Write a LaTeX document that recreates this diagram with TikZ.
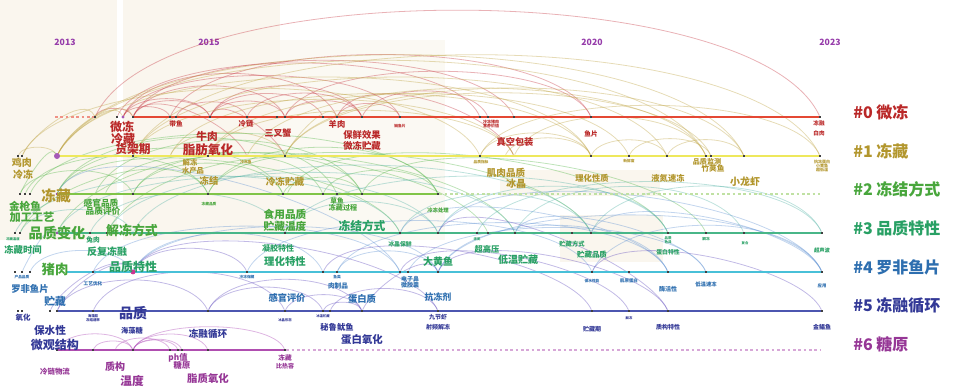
\documentclass[tikz,border=0pt]{standalone}
\usepackage{fontspec}
\setmainfont{Noto Sans CJK SC}
\usepackage{tikz}
\usetikzlibrary{positioning}
\definecolor{c0}{RGB}{228,72,52}
\definecolor{c1}{RGB}{238,232,92}
\definecolor{c2}{RGB}{128,196,72}
\definecolor{c3}{RGB}{72,182,136}
\definecolor{c4}{RGB}{72,192,216}
\definecolor{c5}{RGB}{76,86,176}
\definecolor{c6}{RGB}{176,78,176}
\definecolor{t0}{RGB}{186,40,40}
\definecolor{t1}{RGB}{178,150,45}
\definecolor{t2}{RGB}{72,166,60}
\definecolor{t3}{RGB}{40,160,100}
\definecolor{t4}{RGB}{45,110,175}
\definecolor{t5}{RGB}{50,56,150}
\definecolor{t6}{RGB}{150,55,150}
\definecolor{a0}{RGB}{200,62,72}
\definecolor{a1}{RGB}{192,166,72}
\definecolor{a2}{RGB}{92,186,80}
\definecolor{a3}{RGB}{92,182,170}
\definecolor{a4}{RGB}{102,150,212}
\definecolor{a5}{RGB}{102,82,192}
\definecolor{a6}{RGB}{172,72,182}
\definecolor{yr}{RGB}{150,60,170}
\definecolor{slice}{RGB}{250,246,238}
\tikzstyle{tline} = [line width=2.2pt]
\tikzstyle{dline} = [line width=0.9pt, dash pattern=on 2pt off 2pt]
\tikzstyle{dot} = [rectangle, fill=black!75, inner sep=0pt, minimum size=1.6pt]
\tikzstyle{year} = [font=\fontsize{6.5pt}{7pt}\selectfont\bfseries, text=yr]
\tikzstyle{legend} = [anchor=west, inner sep=0pt, font=\fontsize{12pt}{12pt}\selectfont\bfseries]
\tikzstyle{arcc} = [out=65, in=115, looseness=0.75, line width=0.6pt, opacity=0.4]
\tikzstyle{arcl} = [out=65, in=115, looseness=0.55, line width=0.6pt, opacity=0.4]
\tikzset{
  lk/.style={font=\fontsize{#1pt}{#1pt}\selectfont\bfseries, inner sep=0pt, align=center},
  hub/.style={circle, fill=yr!85, inner sep=0pt, minimum size=#1}
}

\begin{document}
\begin{tikzpicture}[x=0.75pt, y=-0.75pt]
\useasboundingbox (0,0) rectangle (953,390);

% time slices
\fill[slice] (0,0) rectangle (117,240);
\fill[slice] (123,0) rectangle (280,240);
\fill[slice!70] (280,40) rectangle (445,240);
\fill[slice] (500,170) rectangle (660,196);
\fill[slice] (560,215) rectangle (663,262);

% years
\node[year] (y13) at (65,42) {2013};
\node[year] (y15) at (209,42) {2015};
\node[year] (y20) at (592,42) {2020};
\node[year] (y23) at (830,42) {2023};

% timeline dots
\foreach \x in {95,117,123,133,170,176,210,247,277,285,323,337,362,400,480,488,514,591,820}
  \node[dot] (n0-\x) at (\x,117) {};
\foreach \x in {18,22,57,133,170,208,247,285,480,505,514,591,629,667,706,711,744,820}
  \node[dot] (n1-\x) at (\x,156) {};
\foreach \x in {20,25,30,57,95,100,105,133,208,283,287,323,337,362,438}
  \node[dot] (n2-\x) at (\x,194) {};
\foreach \x in {15,20,57,90,100,107,133,285,323,400,438,477,488,515,572,591,668,706,744,822}
  \node[dot] (n3-\x) at (\x,233) {};
\foreach \x in {15,22,30,93,133,247,323,337,400,408,438,592,629,668,706,822}
  \node[dot] (n4-\x) at (\x,272) {};
\foreach \x in {18,22,50,57,93,208,285,323,330,362,438,592,629,668,822}
  \node[dot] (n5-\x) at (\x,311) {};
\foreach \x in {57,93,115,133,170,178,182,208,285}
  \node[dot] (n6-\x) at (\x,350) {};

% citation arcs
\foreach \a/\b in {n0-95/n0-133,n0-123/n0-170,n0-123/n0-210,n0-133/n0-210,n0-133/n0-285,n0-176/n0-247,n0-210/n0-285,n0-210/n0-323,n0-247/n0-362,n0-285/n0-362,n0-337/n0-400,n0-362/n0-488,n0-123/n0-337,n0-210/n0-362,n0-210/n1-285,n0-337/n1-514,n0-133/n1-247}
  \draw[arcc, a0] (\a) to (\b);
\foreach \a/\b in {n0-95/n0-820,n0-117/n0-480,n0-133/n0-514,n0-123/n0-400,n0-170/n0-591,n0-285/n0-591}
  \draw[arcl, a0] (\a) to (\b);
\foreach \a/\b in {n1-18/n1-57,n1-57/n0-123,n1-22/n0-95,n1-57/n0-133,n1-170/n1-285,n1-480/n1-591,n1-505/n1-591,n1-591/n1-667,n1-629/n1-711,n1-667/n1-744,n1-514/n1-706,n1-285/n0-337}
  \draw[arcc, a1] (\a) to (\b);
\foreach \a/\b in {n1-57/n1-706,n1-57/n1-591,n1-57/n1-744,n1-133/n1-820,n1-133/n1-667,n1-170/n1-591,n1-208/n1-629,n1-247/n1-706,n1-285/n1-711,n1-285/n1-744,n1-480/n1-820,n1-208/n1-514,n1-133/n1-514,n1-22/n1-480}
  \draw[arcl, a1] (\a) to (\b);
\foreach \a/\b in {n2-20/n1-57,n2-20/n2-133,n2-25/n2-208,n2-57/n2-283,n2-133/n2-283,n2-283/n2-362,n2-323/n2-438,n2-208/n2-438,n3-20/n2-208,n3-57/n2-323,n3-107/n2-362,n2-57/n2-337,n2-95/n2-362}
  \draw[arcc, a2] (\a) to (\b);
\foreach \a/\b in {n2-30/n2-438,n2-57/n3-400,n2-133/n3-515,n2-208/n3-591,n2-287/n3-668,n2-362/n3-706,n2-105/n3-488}
  \draw[arcl, a2] (\a) to (\b);
\foreach \a/\b in {n3-20/n3-133,n3-90/n3-285,n3-400/n3-591,n3-438/n3-668,n3-591/n3-822,n3-515/n3-744,n3-285/n3-438}
  \draw[arcc, a3] (\a) to (\b);
\foreach \a/\b in {n3-57/n3-438,n3-107/n3-515,n3-133/n3-591,n3-285/n3-668,n3-477/n3-822,n3-15/n3-400}
  \draw[arcl, a3] (\a) to (\b);
\foreach \a/\b in {n4-30/n4-133,n4-22/n3-57,n4-133/n4-323,n4-337/n4-438,n4-438/n4-668,n4-592/n4-822}
  \draw[arcc, a4] (\a) to (\b);
\foreach \a/\b in {n4-93/n4-400,n4-133/n4-438,n4-247/n4-592,n4-337/n4-668,n4-408/n4-706,n4-438/n4-822,n3-438/n4-822,n3-515/n4-706,n3-400/n4-668,n2-57/n4-400,n3-591/n4-822}
  \draw[arcl, a4] (\a) to (\b);
\foreach \a/\b in {n5-57/n5-208,n5-208/n5-362,n5-285/n5-362,n5-323/n5-362,n5-330/n5-438,n5-57/n4-133,n5-50/n4-133,n5-208/n5-323,n5-93/n5-285,n5-362/n4-438,n4-133/n4-247}
  \draw[arcc, a5] (\a) to (\b);
\foreach \a/\b in {n4-323/n5-592,n4-400/n5-629,n4-438/n5-668,n4-592/n5-822,n4-133/n5-438,n3-438/n5-668}
  \draw[arcl, a5] (\a) to (\b);
\foreach \a/\b in {n6-133/n6-178,n6-133/n6-182,n6-133/n6-208,n6-93/n6-133,n6-115/n6-170,n6-57/n6-133}
  \draw[arcc, a6] (\a) to (\b);
\draw[arcl, a6] (n6-133) to (n6-285);

% timelines
\draw[dline, c0!60] (55,117) -- (n0-95);
\draw[tline, c0] (n0-133) -- (n0-820);
\draw[tline, c1] (n1-57) -- (n1-820);
\draw[tline, c2] (n2-57) -- (n2-438);
\draw[dline, c2!50] (n2-438) -- (820,194);
\draw[tline, c3] (n3-57) -- (n3-822);
\draw[tline, c4] (67,272) -- (n4-822);
\draw[tline, c5] (n5-57) -- (n5-822);
\draw[tline, c6] (n6-57) -- (n6-285);
\draw[dline, c6!50] (n6-285) -- (820,350);
\foreach \x in {95,117,123,133,170,176,210,247,277,285,323,337,362,400,480,488,514,591,820}
  \fill[black!75] (n0-\x.south west) rectangle (n0-\x.north east);
\foreach \x in {57,133,208,285,480,591,629,667,706,711,744,820}
  \fill[black!75] (n1-\x.south west) rectangle (n1-\x.north east);
\foreach \x in {57,133,208,283,323,337,362,438}
  \fill[black!75] (n2-\x.south west) rectangle (n2-\x.north east);
\foreach \x in {57,90,107,285,400,438,477,488,515,572,591,668,706,744,822}
  \fill[black!75] (n3-\x.south west) rectangle (n3-\x.north east);
\foreach \x in {93,133,247,323,337,400,408,438,592,629,668,706,822}
  \fill[black!75] (n4-\x.south west) rectangle (n4-\x.north east);
\foreach \x in {57,93,208,285,323,330,362,438,592,629,668,822}
  \fill[black!75] (n5-\x.south west) rectangle (n5-\x.north east);
\foreach \x in {93,133,170,178,182,208,285}
  \fill[black!75] (n6-\x.south west) rectangle (n6-\x.north east);

% central nodes
\node[hub=4.5pt] (h1) at (n1-57) {};
\node[hub=2.6pt] (h0) at (n0-123) {};
\node[hub=2.2pt] (h2) at (n2-57) {};
\node[hub=2.2pt] (h3) at (n3-57) {};
\node[hub=3.6pt, fill=magenta!60!yr] (h4) at (n4-133) {};

% cluster #0
\node[lk=9, text=t0] (k0a) at (122,127) {微冻};
\node[lk=9, text=t0] (k0b) at (123,139) {冷藏};
\node[lk=8.8, text=t0] (k0c) at (133,149) {货架期};
\node[lk=5, text=t0] (k0d) at (176,124) {带鱼};
\node[lk=5.5, text=t0] (k0e) at (246,124) {冷链};
\node[lk=8, text=t0] (k0f) at (207,136) {牛肉};
\node[lk=9.4, text=t0] (k0g) at (208,150) {脂肪氧化};
\node[lk=6.7, text=t0] (k0h) at (278,133) {三叉蟹};
\node[lk=6.2, text=t0] (k0i) at (337,124) {羊肉};
\node[lk=7, text=t0] (k0j) at (362,135) {保鲜效果};
\node[lk=7, text=t0] (k0k) at (362,146) {微冻贮藏};
\node[lk=2.8, text=t0] (k0l) at (400,126) {鲢鱼片};
\node[lk=3, text=t0] (k0m) at (491,124) {冷冻猪肉\\营养价值};
\node[lk=6.9, text=t0] (k0n) at (515,142) {真空包装};
\node[lk=5, text=t0] (k0o) at (591,134) {鱼片};
\node[lk=4.2, text=t0] (k0p) at (819,123) {冻融};
\node[lk=4.2, text=t0] (k0q) at (819,133) {白肉};

% cluster #1
\node[lk=7.5, text=t1] (k1a) at (22,163) {鸡肉};
\node[lk=7.5, text=t1] (k1b) at (23,175) {冷冻};
\node[lk=5.5, text=t1] (k1c) at (190,163) {解冻};
\node[lk=5.5, text=t1] (k1d) at (193,171) {水产品};
\node[lk=7, text=t1] (k1e) at (209,181) {冻结};
\node[lk=2.8, text=t1] (k1f) at (246,162) {冷冻鱼};
\node[lk=7.2, text=t1] (k1g) at (285,182) {冷冻贮藏};
\node[lk=2.8, text=t1] (k1h) at (481,162) {品质指标};
\node[lk=7.2, text=t1] (k1i) at (506,173) {肌肉品质};
\node[lk=7.5, text=t1] (k1j) at (516,184) {冰晶};
\node[lk=6.2, text=t1] (k1k) at (592,178) {理化性质};
\node[lk=2.8, text=t1] (k1l) at (629,161) {新鲜度};
\node[lk=6.2, text=t1] (k1m) at (668,178) {液氮速冻};
\node[lk=5.3, text=t1] (k1n) at (707,162) {品质监测};
\node[lk=5.8, text=t1] (k1o) at (713,169) {竹荚鱼};
\node[lk=7.5, text=t1] (k1p) at (745,182) {小龙虾};
\node[lk=3, text=t1] (k1q) at (822,166) {抗冻蛋白\\小黄鱼\\超低温};
\node[lk=11, text=t1] (k1r) at (56,196) {冻藏};

% cluster #2
\node[lk=8, text=t2] (k2a) at (25,206) {金枪鱼};
\node[lk=8.4, text=t2] (k2b) at (32,217) {加工工艺};
\node[lk=6.5, text=t2] (k2c) at (101,203) {感官品质};
\node[lk=6.5, text=t2] (k2d) at (103,211) {品质评价};
\node[lk=2.8, text=t2] (k2e) at (209,204) {冻藏品质};
\node[lk=5, text=t2] (k2f) at (337,201) {草鱼};
\node[lk=5.3, text=t2] (k2g) at (343,208) {冻藏过程};
\node[lk=8, text=t2] (k2h) at (285,214) {食用品质};
\node[lk=8, text=t2] (k2i) at (285,226) {贮藏温度};
\node[lk=4, text=t2] (k2j) at (438,210) {冷冻处理};
\node[lk=10.6, text=t2] (k2k) at (57,233) {品质变化};
\node[lk=9.7, text=t2] (k2l) at (132,231) {解冻方式};
\node[lk=10, text=t2] (k2m) at (55,269) {猪肉};

% cluster #3
\node[lk=8.8, text=t3] (k3a) at (362,226) {冻结方式};
\node[lk=2.5, text=t3] (k3b) at (13,239) {冻藏温度};
\node[lk=7, text=t3] (k3c) at (23,250) {冻藏时间};
\node[lk=5, text=t3] (k3d) at (93,240) {兔肉};
\node[lk=7.5, text=t3] (k3e) at (107,252) {反复冻融};
\node[lk=6, text=t3] (k3f) at (278,248) {凝胶特性};
\node[lk=7.8, text=t3] (k3g) at (285,262) {理化特性};
\node[lk=4.4, text=t3] (k3h) at (400,244) {冰晶保鲜};
\node[lk=7.5, text=t3] (k3i) at (438,262) {大黄鱼};
\node[lk=2.5, text=t3] (k3j) at (477,239) {液氮};
\node[lk=6.2, text=t3] (k3k) at (487,249) {超高压};
\node[lk=7.5, text=t3] (k3l) at (518,260) {低温贮藏};
\node[lk=4.7, text=t3] (k3m) at (572,244) {贮藏方式};
\node[lk=5.6, text=t3] (k3n) at (592,255) {贮藏品质};
\node[lk=2.6, text=t3] (k3o) at (668,240) {品质\\色泽};
\node[lk=4.4, text=t3] (k3p) at (668,252) {蛋白特性};
\node[lk=2.8, text=t3] (k3q) at (706,239) {解冻};
\node[lk=2.5, text=t3] (k3r) at (745,243) {复合};
\node[lk=4, text=t3] (k3s) at (822,250) {超声波};
\node[lk=9, text=t3] (k3t) at (133,267) {品质特性};

% cluster #4
\node[lk=2.8, text=t4] (k4a) at (22,277) {产品品质};
\node[lk=7, text=t4] (k4b) at (30,289) {罗非鱼片};
\node[lk=3.5, text=t4] (k4c) at (93,284) {工艺优化};
\node[lk=2.8, text=t4] (k4d) at (247,277) {冷冻保藏};
\node[lk=2.8, text=t4] (k4e) at (337,277) {鱼类};
\node[lk=5, text=t4] (k4f) at (338,286) {肉制品};
\node[lk=4.5, text=t4] (k4g) at (410,282) {电子鼻\\微胶囊};
\node[lk=6.9, text=t4] (k4h) at (287,298) {感官评价};
\node[lk=7, text=t4] (k4i) at (362,299) {蛋白质};
\node[lk=6.7, text=t4] (k4j) at (438,297) {抗冻剂};
\node[lk=2.8, text=t4] (k4k) at (592,281) {保水性能};
\node[lk=3.3, text=t4] (k4l) at (629,281) {肌原蛋白};
\node[lk=4.5, text=t4] (k4m) at (668,289) {酶活性};
\node[lk=4, text=t4] (k4n) at (706,284) {低温速冻};
\node[lk=3.3, text=t4] (k4o) at (822,286) {应用};
\node[lk=8, text=t4] (k4p) at (55,301) {贮藏};

% cluster #5
\node[lk=10.5, text=t5] (k5a) at (133,313) {品质};
\node[lk=5.6, text=t5] (k5b) at (23,318) {氧化};
\node[lk=2.6, text=t5] (k5c) at (93,318) {海藻酸\\冻结速率};
\node[lk=8, text=t5] (k5d) at (50,330) {保水性};
\node[lk=9, text=t5] (k5e) at (55,345) {微观结构};
\node[lk=5.4, text=t5] (k5f) at (132,331) {海藻糖};
\node[lk=7.2, text=t5] (k5g) at (208,334) {冻融循环};
\node[lk=2.5, text=t5] (k5h) at (285,320) {冰晶形态};
\node[lk=2.5, text=t5] (k5i) at (323,316) {冰温贮藏};
\node[lk=6.2, text=t5] (k5j) at (337,327) {秘鲁鱿鱼};
\node[lk=7.8, text=t5] (k5k) at (362,340) {蛋白氧化};
\node[lk=4.5, text=t5] (k5l) at (438,317) {九节虾};
\node[lk=4.5, text=t5] (k5m) at (438,327) {射频解冻};
\node[lk=4.5, text=t5] (k5n) at (592,329) {贮藏期};
\node[lk=2.5, text=t5] (k5o) at (629,318) {解冻};
\node[lk=4.5, text=t5] (k5p) at (668,327) {质构特性};
\node[lk=4.5, text=t5] (k5q) at (822,327) {金鲳鱼};

% cluster #6
\node[lk=5.6, text=t6] (k6a) at (55,372) {冷链物流};
\node[lk=7.5, text=t6] (k6b) at (115,367) {质构};
\node[lk=8.8, text=t6] (k6c) at (132,381) {温度};
\node[lk=6.2, text=t6] (k6d) at (178,358) {ph值};
\node[lk=6.2, text=t6] (k6e) at (182,365) {糖原};
\node[lk=7.8, text=t6] (k6f) at (208,378) {脂质氧化};
\node[lk=5, text=t6] (k6g) at (285,358) {冻藏};
\node[lk=4.5, text=t6] (k6h) at (285,366) {比热容};

% cluster names
\node[legend, text=t0] (g0) at (853,112) {\#0 微冻};
\node[legend, text=t1] (g1) at (853,151) {\#1 冻藏};
\node[legend, text=t2] (g2) at (853,189) {\#2 冻结方式};
\node[legend, text=t3] (g3) at (853,228) {\#3 品质特性};
\node[legend, text=t4] (g4) at (853,267) {\#4 罗非鱼片};
\node[legend, text=t5] (g5) at (853,306) {\#5 冻融循环};
\node[legend, text=t6] (g6) at (853,344) {\#6 糖原};

\end{tikzpicture}
\end{document}
